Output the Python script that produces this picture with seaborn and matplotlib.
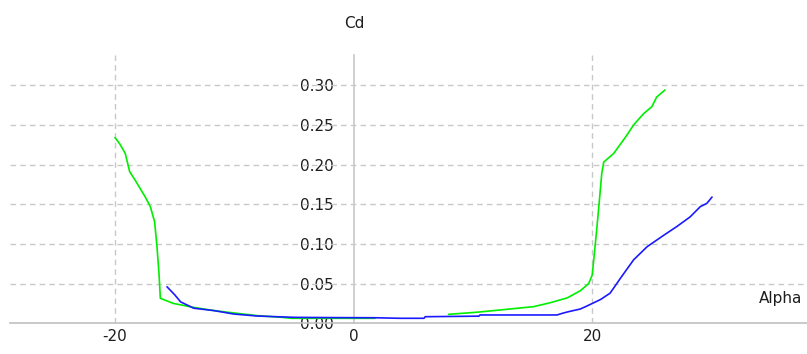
import numpy as np
import pandas as pd
import seaborn as sns
import matplotlib
matplotlib.use('Agg')
import matplotlib.pyplot as plt

# polar data (alpha in deg, Cd)
green_alpha_1 = [-20.0, -19.6, -19.14, -18.77, -18.3, -17.46, -17.04, -16.68, -16.48, -16.3,
                 -16.2, -15.1, -13.4, -11.7, -9.8, -8.0, -6.0, -5.2, -3.0, -1.0, 1.8]
green_cd_1 = [0.234, 0.226, 0.214, 0.191, 0.180, 0.159, 0.147, 0.128, 0.0965, 0.060,
              0.0315, 0.025, 0.020, 0.016, 0.0126, 0.0095, 0.0075, 0.0063, 0.0063, 0.0063, 0.0063]
green_alpha_2 = [7.96, 10.3, 12.3, 15.1, 16.5, 17.9, 19.0, 19.7, 20.0, 20.18, 20.4, 20.6,
                 20.8, 20.96, 21.8, 22.9, 23.47, 24.3, 25.0, 25.4, 26.1]
green_cd_2 = [0.0113, 0.0139, 0.0168, 0.021, 0.026, 0.032, 0.041, 0.050, 0.061, 0.088, 0.122, 0.155,
              0.189, 0.203, 0.214, 0.237, 0.250, 0.264, 0.273, 0.285, 0.294]

blue_alpha = [-15.64, -15.0, -14.5, -13.4, -11.7, -10.06, -8.1, -5.0, -2.0, 1.8, 3.9, 5.9, 6.0,
              10.5, 10.6, 17.05, 17.5, 18.0, 19.0, 19.56, 20.7, 21.5, 22.36, 23.47, 24.6,
              26.0, 27.1, 28.2, 29.06, 29.6, 30.04]
blue_cd = [0.046, 0.036, 0.027, 0.019, 0.016, 0.0117, 0.0092, 0.0075, 0.0072, 0.007, 0.0063, 0.0063,
           0.0083, 0.009, 0.0105, 0.0105, 0.0126, 0.0146, 0.018, 0.0218, 0.030, 0.038, 0.0567,
           0.080, 0.0965, 0.111, 0.122, 0.134, 0.147, 0.151, 0.159]

x_ticks = [-20, 0, 20]
y_ticks = [0.0, 0.05, 0.10, 0.15, 0.20, 0.25, 0.30]

green = pd.DataFrame({
    'alpha': green_alpha_1 + green_alpha_2,
    'cd': green_cd_1 + green_cd_2,
    'seg': [1] * len(green_alpha_1) + [2] * len(green_alpha_2),
})
blue = pd.DataFrame({'alpha': blue_alpha, 'cd': blue_cd, 'seg': 1})

sns.set_style('white')
plt.rcParams['font.family'] = ['DejaVu Sans']
plt.rcParams['font.size'] = 11

fig = plt.figure(figsize=(8.07, 3.54), dpi=100)
ax = fig.add_axes([10 / 807, (354 - 323.3) / 354, 797 / 807, (323.3 - 55) / 354])

sns.lineplot(data=green, x='alpha', y='cd', units='seg', estimator=None, sort=False,
             color='#00ee00', linewidth=1.2, ax=ax, zorder=3)
sns.lineplot(data=blue, x='alpha', y='cd', units='seg', estimator=None, sort=False,
             color='#1a1aff', linewidth=1.2, ax=ax, zorder=4)

ax.set_xlim(-28.8, 38.0)
ax.set_ylim(0, 0.338)
ax.set_xticks(x_ticks)
ax.set_yticks(y_ticks)
ax.set_xticklabels([str(v) for v in x_ticks])
ax.set_yticklabels(['%.2f' % v for v in y_ticks])

# dashed grid, the zero lines are the axes
for v in x_ticks:
    if v != 0:
        ax.axvline(v, color='#c8c8c8', linestyle=(0, (4, 3)), linewidth=1, zorder=1)
for v in y_ticks[1:]:
    ax.axhline(v, color='#c8c8c8', linestyle=(0, (4, 3)), linewidth=1, zorder=1)

ax.spines['top'].set_visible(False)
ax.spines['right'].set_visible(False)
ax.spines['left'].set_position(('data', 0))
ax.spines['left'].set_color('#c8c8c8')
ax.spines['bottom'].set_color('#c0c0c0')
ax.spines['left'].set_linewidth(1.2)
ax.spines['bottom'].set_linewidth(1.2)
ax.tick_params(axis='both', length=0, colors='#1e1e1e', labelsize=11)
ax.tick_params(axis='y', pad=14)
ax.tick_params(axis='x', pad=4)
ax.set_xlabel('')
ax.set_ylabel('')

fig.text(354 / 807, 1 - 24 / 354, 'Cd', ha='center', va='center', fontsize=11, color='#1e1e1e')
fig.text(781 / 807, 1 - 299 / 354, 'Alpha', ha='center', va='center', fontsize=11, color='#1e1e1e')

fig.savefig('out.png', dpi=100)
